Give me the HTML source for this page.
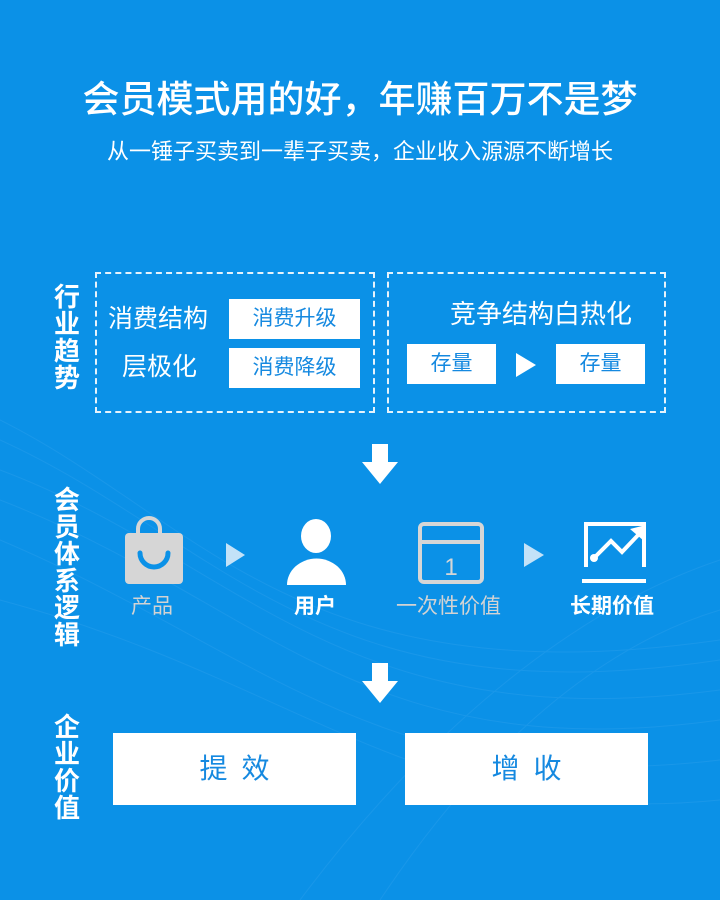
<!DOCTYPE html>
<html><head><meta charset="utf-8"><style>
body{margin:0;width:720px;height:900px;background:#0b91e7;position:relative;overflow:hidden;font-family:"Liberation Sans","Noto Sans CJK SC",sans-serif;color:#fff}
.a{position:absolute}
.t{white-space:nowrap}
.v{position:absolute;left:52px;width:30px;font-weight:bold;font-size:26px;line-height:27px;text-align:center}
.dash{position:absolute;border:2px dashed #e6f3fc;box-sizing:border-box}
.wb{position:absolute;background:#fff;color:#1589e0;text-align:center;font-size:21px}
.tri{position:absolute;width:0;height:0;border-top:12px solid transparent;border-bottom:12px solid transparent;border-left:20px solid #fff}
.lab{position:absolute;top:594px;font-size:21px;line-height:26px;white-space:nowrap}
</style></head><body>
<svg class="a" style="left:0;top:0" width="720" height="900">
<g fill="none" stroke="#3aa6ee" stroke-width="1" opacity=".3">
<path d="M0 420 C200 520 300 700 720 640"/><path d="M0 440 C220 540 320 720 720 660"/><path d="M0 470 C240 560 340 740 720 690"/><path d="M0 500 C260 600 360 770 720 720"/>
<path d="M0 540 C260 650 380 800 720 760"/><path d="M0 600 C300 680 420 830 720 800"/><path d="M300 900 C450 700 600 600 720 560"/><path d="M380 900 C500 720 620 640 720 610"/>
</g></svg>
<div class="a t" style="left:0;width:720px;top:78px;text-align:center;font-size:37px;line-height:44px;font-weight:500">会员模式用的好，年赚百万不是梦</div>
<div class="a t" style="left:0;width:720px;top:137px;text-align:center;font-size:22px;line-height:30px">从一锤子买卖到一辈子买卖，企业收入源源不断增长</div>

<div class="v" style="top:284px">行<br>业<br>趋<br>势</div>
<div class="dash" style="left:95px;top:272px;width:280px;height:141px"></div>
<div class="dash" style="left:387px;top:272px;width:279px;height:141px"></div>
<div class="a t" style="left:108px;top:303px;font-size:25px;line-height:32px">消费结构</div>
<div class="a t" style="left:122px;top:351px;font-size:25px;line-height:32px">层极化</div>
<div class="wb" style="left:229px;top:299px;width:131px;height:40px;line-height:40px">消费升级</div>
<div class="wb" style="left:229px;top:348px;width:131px;height:40px;line-height:40px">消费降级</div>
<div class="a t" style="left:450px;top:298px;font-size:26px;line-height:32px">竞争结构白热化</div>
<div class="wb" style="left:407px;top:344px;width:89px;height:40px;line-height:40px">存量</div>
<div class="wb" style="left:556px;top:344px;width:89px;height:40px;line-height:40px">存量</div>
<div class="tri" style="left:516px;top:353px"></div>

<svg class="a" style="left:360px;top:444px" width="40" height="40"><path d="M12 0H28V18H38L20 40L2 18H12Z" fill="#fff"/></svg>

<div class="v" style="top:487px">会<br>员<br>体<br>系<br>逻<br>辑</div>
<svg class="a" style="left:120px;top:515px" width="540" height="75">
<path d="M18 22V14a11 11 0 0 1 22 0V22" fill="none" stroke="#d6d6d6" stroke-width="4"/>
<rect x="5" y="18" width="58" height="51" rx="4" fill="#d6d6d6"/>
<path d="M20 38a14 14 0 0 0 28 0" fill="none" stroke="#0b91e7" stroke-width="5" stroke-linecap="round"/>
<path d="M106 28L125 40L106 52Z" fill="#c3e2f8"/>
<ellipse cx="196" cy="21" rx="15" ry="17" fill="#fff"/>
<path d="M167 70a29 26 0 0 1 59 0Z" fill="#fff"/>
<rect x="300" y="9" width="62" height="58" rx="4" fill="none" stroke="#d6d6d6" stroke-width="4"/>
<path d="M300 27H362" stroke="#d6d6d6" stroke-width="4"/>
<text x="331" y="60" font-size="24" fill="#d6d6d6" text-anchor="middle" font-family="Liberation Sans">1</text>
<path d="M404 28L424 40L404 52Z" fill="#c3e2f8"/>
<path d="M466 52V9H524V52" fill="none" stroke="#fff" stroke-width="4"/>
<path d="M462 66H526" stroke="#fff" stroke-width="4"/>
<path d="M474 43L491 26L502 37L520 18" fill="none" stroke="#fff" stroke-width="4"/>
<circle cx="474" cy="43" r="4" fill="#fff"/>
<path d="M526 10L524 26L510 14Z" fill="#fff"/>
</svg>
<div class="lab" style="left:131px;color:#d3d3d3">产品</div>
<div class="lab" style="left:294px;font-weight:bold">用户</div>
<div class="lab" style="left:396px;color:#d3d3d3">一次性价值</div>
<div class="lab" style="left:570px;font-weight:bold">长期价值</div>

<svg class="a" style="left:360px;top:663px" width="40" height="40"><path d="M12 0H28V18H38L20 40L2 18H12Z" fill="#fff"/></svg>

<div class="v" style="top:714px">企<br>业<br>价<br>值</div>
<div class="wb" style="left:113px;top:733px;width:243px;height:72px;line-height:72px;font-size:28px;letter-spacing:14px;text-indent:14px">提效</div>
<div class="wb" style="left:405px;top:733px;width:243px;height:72px;line-height:72px;font-size:28px;letter-spacing:14px;text-indent:14px">增收</div>
</body></html>
